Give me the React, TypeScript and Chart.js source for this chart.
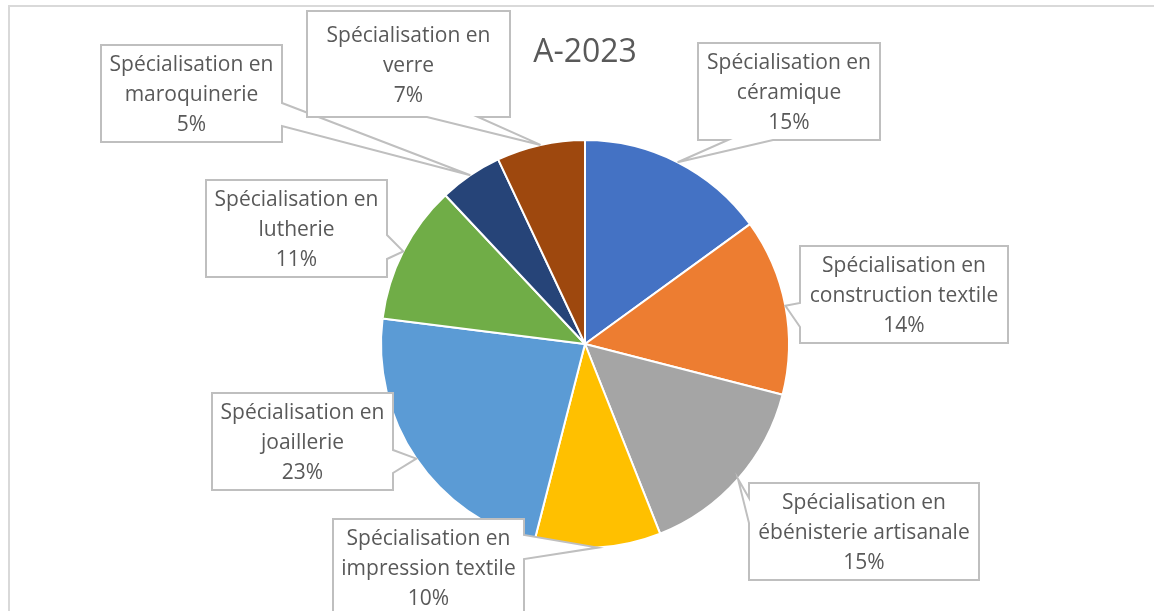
import React, { useEffect, useRef } from "react";
import { Chart, registerables } from "chart.js";

Chart.register(...registerables);

const CHART_TITLE = "A-2023";

const categories = [
  "Spécialisation en céramique",
  "Spécialisation en construction textile",
  "Spécialisation en ébénisterie artisanale",
  "Spécialisation en impression textile",
  "Spécialisation en joaillerie",
  "Spécialisation en lutherie",
  "Spécialisation en maroquinerie",
  "Spécialisation en verre",
];

const values = [15, 14, 15, 10, 23, 11, 5, 7];

const sliceColors = [
  "#4472C4",
  "#ED7D31",
  "#A5A5A5",
  "#FFC000",
  "#5B9BD5",
  "#70AD47",
  "#264478",
  "#9E480E",
];

// Callout box layout (pixel boxes) and pointer base offsets along a side
type Side = "top" | "bottom" | "left" | "right";
const calloutBoxes: { x: number; y: number; w: number; h: number; side: Side; a: number; b: number }[] = [
  { x: 698, y: 43, w: 182, h: 97, side: "bottom", a: 30, b: 75 },
  { x: 800, y: 246, w: 208, h: 97, side: "left", a: 57, b: 81 },
  { x: 749, y: 483, w: 230, h: 97, side: "left", a: 15, b: 40 },
  { x: 333, y: 519, w: 191, h: 97, side: "right", a: 16, b: 40 },
  { x: 212, y: 393, w: 181, h: 97, side: "right", a: 57, b: 80 },
  { x: 206, y: 180, w: 181, h: 97, side: "right", a: 55, b: 79 },
  { x: 101, y: 45, w: 181, h: 97, side: "right", a: 58, b: 81 },
  { x: 307, y: 11, w: 203, h: 106, side: "bottom", a: 120, b: 171 },
];

const TEXT_COLOR = "#595959";
const FONT_FAMILY = "'Open Sans', 'Noto Sans', sans-serif";

const decorPlugin = {
  id: "decor",
  beforeDraw(chart: any) {
    const ctx = chart.ctx as CanvasRenderingContext2D;
    ctx.save();
    ctx.fillStyle = "#ffffff";
    ctx.fillRect(0, 0, chart.width, chart.height);
    ctx.strokeStyle = "#D9D9D9";
    ctx.lineWidth = 2;
    ctx.strokeRect(9, 6, chart.width + 40, chart.height + 40);
    ctx.fillStyle = TEXT_COLOR;
    ctx.font = `32px ${FONT_FAMILY}`;
    ctx.textAlign = "center";
    ctx.textBaseline = "alphabetic";
    const area = chart.chartArea;
    ctx.fillText(CHART_TITLE, (area.left + area.right) / 2, 62);
    ctx.restore();
  },
  afterDatasetsDraw(chart: any) {
    const ctx = chart.ctx as CanvasRenderingContext2D;
    const meta = chart.getDatasetMeta(0);
    const data = chart.data.datasets[0].data as number[];
    const total = data.reduce((s, v) => s + v, 0);
    ctx.save();
    meta.data.forEach((arc: any, i: number) => {
      const p = arc.getProps(["x", "y", "startAngle", "endAngle", "outerRadius"], true);
      const mid = (p.startAngle + p.endAngle) / 2;
      const tx = p.x + Math.cos(mid) * p.outerRadius;
      const ty = p.y + Math.sin(mid) * p.outerRadius;
      const bx = calloutBoxes[i];
      const L = bx.x, T = bx.y, R = bx.x + bx.w, B = bx.y + bx.h;
      const pts: [number, number][] = [];
      pts.push([L, T]);
      if (bx.side === "top") {
        pts.push([L + bx.a, T], [tx, ty], [L + bx.b, T]);
      }
      pts.push([R, T]);
      if (bx.side === "right") {
        pts.push([R, T + bx.a], [tx, ty], [R, T + bx.b]);
      }
      pts.push([R, B]);
      if (bx.side === "bottom") {
        pts.push([L + bx.b, B], [tx, ty], [L + bx.a, B]);
      }
      pts.push([L, B]);
      if (bx.side === "left") {
        pts.push([L, T + bx.b], [tx, ty], [L, T + bx.a]);
      }
      ctx.beginPath();
      pts.forEach(([px, py], k) => (k === 0 ? ctx.moveTo(px, py) : ctx.lineTo(px, py)));
      ctx.closePath();
      ctx.fillStyle = "#ffffff";
      ctx.fill();
      ctx.strokeStyle = "#BFBFBF";
      ctx.lineWidth = 2;
      ctx.lineJoin = "miter";
      ctx.stroke();

      const label = chart.data.labels[i] as string;
      const cut = label.indexOf(" en ") + 3;
      const lines = [
        label.slice(0, cut),
        label.slice(cut + 1),
        Math.round((data[i] / total) * 100) + "%",
      ];
      ctx.fillStyle = TEXT_COLOR;
      ctx.font = `21px ${FONT_FAMILY}`;
      ctx.textAlign = "center";
      ctx.textBaseline = "middle";
      const cx = (L + R) / 2;
      const cy = (T + B) / 2 + 2;
      lines.forEach((ln, k) => ctx.fillText(ln, cx, cy + (k - 1) * 30));
    });
    ctx.restore();
  },
};

export default function App() {
  const canvasRef = useRef<HTMLCanvasElement | null>(null);
  useEffect(() => {
    if (!canvasRef.current) return;
    const chart = new Chart(canvasRef.current, {
      type: "pie",
      data: {
        labels: categories,
        datasets: [
          {
            data: values,
            backgroundColor: sliceColors,
            borderColor: "#ffffff",
            borderWidth: 2,
          },
        ],
      },
      options: {
        responsive: false,
        animation: false,
        layout: { padding: { left: 380, right: 364, top: 139, bottom: 62 } },
        plugins: {
          legend: { display: false },
          title: { display: false },
          tooltip: { enabled: false },
        },
      },
      plugins: [decorPlugin],
    });
    return () => chart.destroy();
  }, []);
  return (
    <div style={{ position: "absolute", left: 0, top: 0, width: 1154, height: 611, background: "#fff" }}>
      <canvas ref={canvasRef} width={1154} height={611} />
    </div>
  );
}
